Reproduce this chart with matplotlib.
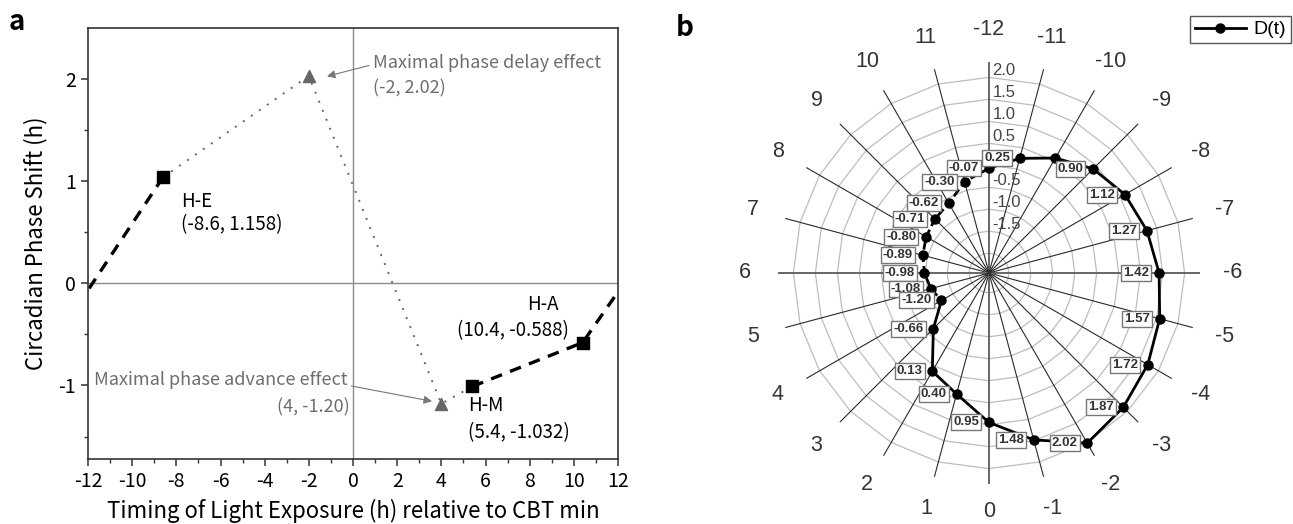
import numpy as np
import matplotlib.pyplot as plt
from matplotlib.lines import Line2D

plt.rcParams['axes.unicode_minus'] = False

# ---------------- panel a data ----------------
early_x = [-11.95, -8.6]
early_y = [-0.05, 1.04]
mid_x = [-8.6, -2.0, 4.0, 5.4]
mid_y = [1.04, 2.03, -1.18, -1.01]
late_x = [5.4, 10.4, 11.85]
late_y = [-1.01, -0.58, -0.13]
square_x = [-8.6, 5.4, 10.4]
square_y = [1.04, -1.01, -0.58]
peak_x = [-2.0, 4.0]
peak_y = [2.03, -1.18]

# ---------------- panel b data ----------------
hours = [12, 11, 10, 9, 8, 7, 6, 5, 4, 3, 2, 1, 0,
         -1, -2, -3, -4, -5, -6, -7, -8, -9, -10, -11]
d_values = [-0.07, -0.30, -0.62, -0.71, -0.80, -0.89, -0.98, -1.08, -1.20,
            -0.66, 0.13, 0.40, 0.95, 1.48, 2.02, 1.87, 1.72, 1.57, 1.42,
            1.27, 1.12, 0.90, 0.57, 0.25]
d_labels = ['-0.07', '-0.30', '-0.62', '-0.71', '-0.80', '-0.89', '-0.98',
            '-1.08', '-1.20', '-0.66', '0.13', '0.40', '0.95', '1.48', '2.02',
            '1.87', '1.72', '1.57', '1.42', '1.27', '1.12', '0.90', None, '0.25']
tick_hours = [12, 11, 10, 9, 8, 7, 6, 5, 4, 3, 2, 1, 0,
              -1, -2, -3, -4, -5, -6, -7, -8, -9, -10, -11]
tick_labels = ['-12', '11', '10', '9', '8', '7', '6', '5', '4', '3', '2', '1', '0',
               '-1', '-2', '-3', '-4', '-5', '-6', '-7', '-8', '-9', '-10', '-11']
ring_values = [2.0, 1.5, 1.0, 0.5, 0.0, -0.5, -1.0, -1.5, -2.0]
ring_labels = ['2.0', '1.5', '1.0', '0.5', None, '-0.5', '-1.0', '-1.5', None]

FONT_A = ['Noto Sans CJK SC', 'DejaVu Sans']
FONT_B = ['Liberation Sans', 'DejaVu Sans']

W, H = 1293, 524
fig = plt.figure(figsize=(W / 100, H / 100), dpi=100)

# ================= panel a =================
ax1 = fig.add_axes([88 / W, 65 / H, 530 / W, 431 / H])
ax1.axhline(0, color='#8a8a8a', lw=1.0, zorder=0)
ax1.axvline(0, color='#8a8a8a', lw=1.0, zorder=0)

ax1.plot(early_x, early_y, color='black', lw=2.4, ls=(0, (3.5, 2.6)), zorder=2)
ax1.plot(late_x, late_y, color='black', lw=2.4, ls=(0, (3.5, 2.6)), zorder=2)
ax1.plot(mid_x, mid_y, color='#666666', lw=1.4, ls=(0, (1, 4)), zorder=2)
ax1.scatter(square_x, square_y, marker='s', s=80, color='black', zorder=3)
ax1.scatter(peak_x, peak_y, marker='^', s=75, color='#666666', zorder=3)

ax1.set_xlim(-12, 12)
ax1.set_ylim(-1.72, 2.5)
ax1.set_xticks(np.arange(-12, 13, 2))
ax1.set_xticks(np.arange(-11, 12, 2), minor=True)
ax1.set_yticks([-1, 0, 1, 2])
ax1.set_yticks([-1.5, -0.5, 0.5, 1.5], minor=True)
ax1.tick_params(which='major', direction='out', length=5, width=1.1,
                labelsize=14, color='#333333')
ax1.tick_params(which='minor', direction='out', length=3, width=1.0,
                color='#333333')
for lab in ax1.get_xticklabels() + ax1.get_yticklabels():
    lab.set_family(FONT_A)
for sp in ax1.spines.values():
    sp.set_color('#333333')
    sp.set_linewidth(1.2)

ax1.set_xlabel('Timing of Light Exposure (h) relative to CBT min',
               fontsize=16, family=FONT_A, labelpad=5)
ax1.set_ylabel('Circadian Phase Shift (h)', fontsize=16, family=FONT_A,
               labelpad=8)

gray = '#6e6e6e'
ax1.text(0.9, 2.16, 'Maximal phase delay effect', color=gray, fontsize=13,
         family=FONT_A, ha='left', va='center')
ax1.text(0.9, 1.91, '(-2, 2.02)', color=gray, fontsize=13,
         family=FONT_A, ha='left', va='center')
ax1.annotate('', xy=(-1.3, 2.02), xytext=(0.85, 2.14),
             arrowprops=dict(arrowstyle='-|>', color='#777777', lw=0.8,
                             mutation_scale=12))
ax1.text(-0.25, -0.95, 'Maximal phase advance effect', color=gray,
         fontsize=13, family=FONT_A, ha='right', va='center')
ax1.text(-0.15, -1.21, '(4, -1.20)', color=gray, fontsize=13,
         family=FONT_A, ha='right', va='center')
ax1.annotate('', xy=(3.7, -1.16), xytext=(-0.2, -1.0),
             arrowprops=dict(arrowstyle='-|>', color='#777777', lw=0.8,
                             mutation_scale=12))

ax1.text(-7.8, 0.8, 'H-E', fontsize=13.5, family=FONT_A, ha='left', va='center')
ax1.text(-7.8, 0.57, '(-8.6, 1.158)', fontsize=13.5, family=FONT_A,
         ha='left', va='center')
ax1.text(7.9, -0.21, 'H-A', fontsize=13.5, family=FONT_A, ha='left', va='center')
ax1.text(4.7, -0.46, '(10.4, -0.588)', fontsize=13.5, family=FONT_A,
         ha='left', va='center')
ax1.text(5.2, -1.2, 'H-M', fontsize=13.5, family=FONT_A, ha='left', va='center')
ax1.text(5.2, -1.46, '(5.4, -1.032)', fontsize=13.5, family=FONT_A,
         ha='left', va='center')

fig.text(17 / W, 1 - 22 / H, 'a', fontsize=20, fontweight='bold',
         family=FONT_A, ha='center', va='center')
fig.text(685 / W, 1 - 28 / H, 'b', fontsize=20, fontweight='bold',
         family=FONT_A, ha='center', va='center')

# ================= panel b =================
R = 211
ax2 = fig.add_axes([(989 - R) / W, (H - 273 - R) / H, 2 * R / W, 2 * R / H],
                   projection='polar')
ax2.set_theta_zero_location('S')
ax2.set_theta_direction(-1)
r_min, r_max = -2.45, 2.35
ax2.set_rlim(r_min, r_max)
ax2.grid(False)
ax2.set_xticks([])
ax2.set_yticks([])
ax2.spines['polar'].set_visible(False)
ax2.patch.set_alpha(0)

theta = np.deg2rad(np.array(hours) * 15.0)
ring_theta = np.append(theta, theta[0])
for rv in ring_values:
    ax2.plot(ring_theta, [rv] * len(ring_theta), color='#bdbdbd', lw=0.9,
             zorder=1)
for h, t in zip(hours, theta):
    if h % 6 == 0:
        ax2.plot([t, t], [r_min, r_max], color='#666666', lw=1.4, zorder=1.5)
    else:
        ax2.plot([t, t], [r_min, r_max], color='#2a2a2a', lw=0.8, zorder=1.5)

for rv, lab in zip(ring_values, ring_labels):
    if lab:
        ax2.annotate(lab, xy=(np.pi, rv), xytext=(2.5, 5),
                     textcoords='offset points', ha='left', va='center',
                     fontsize=12, color='#444444', family=FONT_B, zorder=2)

for h, lab in zip(tick_hours, tick_labels):
    r_lab = 2.98 if h == 0 else 3.1
    ax2.text(np.deg2rad(h * 15.0), r_lab, lab, fontsize=15.5, color='#333333',
             family=FONT_B, ha='center', va='center')

# D(t): dashed on the evening side (12 -> 4), solid elsewhere
split = hours.index(4)
ax2.plot(theta[:split + 1], d_values[:split + 1], color='black', lw=2.0,
         ls=(0, (3, 1.5)), zorder=3)
ax2.plot(np.append(theta[split:], theta[0]),
         np.append(d_values[split:], d_values[0]), color='black', lw=2.0,
         zorder=3)
ax2.plot(theta, d_values, ls='none', marker='o', ms=6.5, color='black',
         zorder=4, clip_on=False)

for t, v, lab in zip(theta, d_values, d_labels):
    if lab is None:
        continue
    ax2.annotate(lab, xy=(t, v), xytext=(-7, 0), textcoords='offset points',
                 ha='right', va='center', fontsize=9.5, fontweight='bold',
                 color='#333333', family=FONT_B, zorder=5,
                 bbox=dict(boxstyle='square,pad=0.15', fc='white',
                           ec='#777777', lw=1.0))

proxy = Line2D([0], [0], color='black', lw=2.0, marker='o', ms=6.5)
fig.legend(handles=[proxy], labels=['D(t)'], loc='upper right',
           bbox_to_anchor=(1291 / W, 1 - 16 / H), fancybox=False,
           edgecolor='#555555', framealpha=1,
           prop={'family': FONT_B, 'size': 14}, handlelength=2.6,
           handletextpad=0.4, borderpad=0.25, borderaxespad=0)

fig.savefig('out.png', dpi=100)
